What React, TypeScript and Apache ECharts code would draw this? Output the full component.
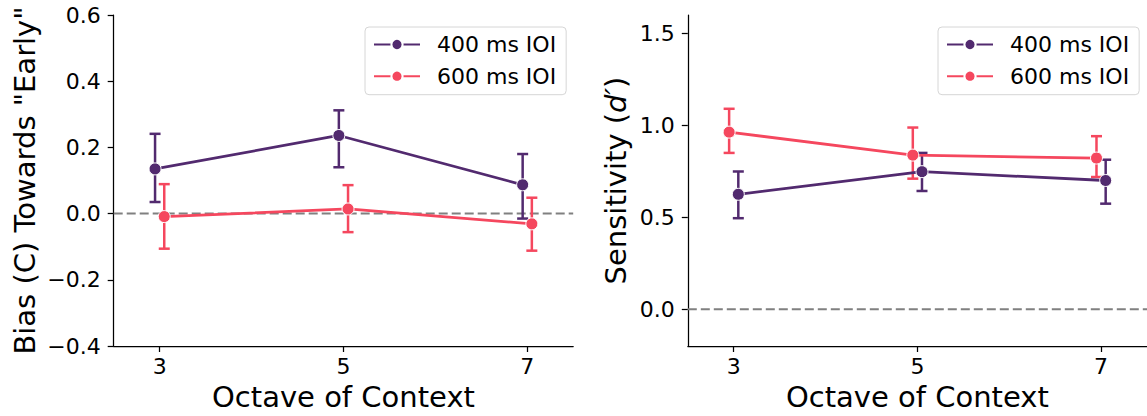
import React, { useEffect, useRef } from "react";
import * as echarts from "echarts";

// ---- data ----
const octaves = [3, 5, 7];
const xTicks = [3, 5, 7];
const seriesNames = ["400 ms IOI", "600 ms IOI"];

// Bias (C)
const bias400Mean = [0.135, 0.236, 0.087];
const bias400Low = [0.035, 0.14, -0.015];
const bias400High = [0.241, 0.312, 0.18];
const bias600Mean = [-0.009, 0.014, -0.031];
const bias600Low = [-0.106, -0.056, -0.112];
const bias600High = [0.089, 0.086, 0.048];

// Sensitivity (d')
const sens400Mean = [0.625, 0.748, 0.7];
const sens400Low = [0.495, 0.643, 0.574];
const sens400High = [0.749, 0.85, 0.813];
const sens600Mean = [0.963, 0.838, 0.822];
const sens600Low = [0.85, 0.71, 0.719];
const sens600High = [1.09, 0.988, 0.941];

// horizontal dodge of each group (in x units)
const biasDodge400 = -0.05;
const biasDodge600 = 0.05;
const sensDodge400 = 0.05;
const sensDodge600 = -0.05;

const biasYTicks = [-0.4, -0.2, 0, 0.2, 0.4, 0.6];
const sensYTicks = [0, 0.5, 1.0, 1.5];

const X_MIN = 2.5;
const X_MAX = 7.5;

const C400 = "#522a6f";
const C600 = "#f5475e";
const FONT = "DejaVu Sans";

function fmt(v: number) {
  return (v < 0 ? "\u2212" : "") + Math.abs(v).toFixed(1);
}

function pts(mean: number[], dodge: number) {
  return octaves.map((o, i) => [o + dodge, mean[i]]);
}
function errs(low: number[], high: number[], dodge: number) {
  return octaves.map((o, i) => [o + dodge, low[i], high[i]]);
}

const errRender = (color: string) => (params: any, api: any) => {
  const x = api.value(0);
  const lo = api.coord([x, api.value(1)]);
  const hi = api.coord([x, api.value(2)]);
  const cap = 5.5;
  const style = { stroke: color, lineWidth: 2.5 };
  return {
    type: "group",
    children: [
      { type: "line", shape: { x1: lo[0], y1: lo[1], x2: hi[0], y2: hi[1] }, style },
      { type: "line", shape: { x1: hi[0] - cap, y1: hi[1], x2: hi[0] + cap, y2: hi[1] }, style },
      { type: "line", shape: { x1: lo[0] - cap, y1: lo[1], x2: lo[0] + cap, y2: lo[1] }, style },
    ],
  };
};

function lineSeries(name: string, color: string, data: number[][], idx: number) {
  return {
    type: "line",
    name,
    xAxisIndex: idx,
    yAxisIndex: idx,
    data,
    symbol: "circle",
    symbolSize: 12,
    lineStyle: { color, width: 2.8 },
    itemStyle: { color, borderColor: "#ffffff", borderWidth: 1 },
    z: 4,
  };
}

function errSeries(name: string, color: string, data: number[][], idx: number) {
  return {
    type: "custom",
    name: name + " err",
    xAxisIndex: idx,
    yAxisIndex: idx,
    data,
    encode: { x: 0, y: [1, 2] },
    renderItem: errRender(color),
    itemStyle: { color },
    z: 3,
  };
}

function zeroSeries(idx: number) {
  return {
    type: "line",
    name: "zero",
    xAxisIndex: idx,
    yAxisIndex: idx,
    data: [
      [X_MIN, 0],
      [X_MAX, 0],
    ],
    symbol: "none",
    lineStyle: { color: "#808080", width: 2, type: [9, 4] },
    z: 1,
    silent: true,
  };
}

const axisCommon = {
  axisLine: { show: true, onZero: false, lineStyle: { color: "#000", width: 1.25 } },
  axisTick: { show: true, length: 6, lineStyle: { color: "#000", width: 1.25 } },
  splitLine: { show: false },
};

function xAxis(idx: number) {
  return {
    type: "value",
    gridIndex: idx,
    min: X_MIN,
    max: X_MAX,
    ...axisCommon,
    axisTick: { ...axisCommon.axisTick, customValues: xTicks },
    axisLabel: {
      customValues: xTicks,
      formatter: (v: number) => String(v),
      fontSize: 22,
      fontFamily: FONT,
      color: "#000",
      margin: 9,
    },
    name: "Octave of Context",
    nameLocation: "middle",
    nameGap: 36,
    nameTextStyle: { fontSize: 29, fontFamily: FONT, color: "#000" },
  };
}

const legendCommon = {
  orient: "vertical",
  top: 27,
  data: seriesNames,
  itemWidth: 46,
  itemHeight: 14,
  itemGap: 8.7,
  padding: [6, 10, 7, 8],
  borderColor: "#d6d6d6",
  borderWidth: 1,
  borderRadius: 4,
  backgroundColor: "#ffffff",
  textStyle: {
    fontSize: 22,
    fontFamily: FONT,
    color: "#000",
    lineHeight: 23,
    padding: [0, 0, 0, 12],
  },
  selectedMode: false,
};

export default function App() {
  const ref = useRef<HTMLDivElement>(null);
  useEffect(() => {
    if (!ref.current) return;
    const chart = echarts.init(ref.current, undefined, { renderer: "svg" });
    chart.setOption({
      animation: false,
      backgroundColor: "#ffffff",
      textStyle: { fontFamily: FONT },
      grid: [
        { left: 113.7, top: 15, width: 459.5, height: 332 },
        { left: 687.8, top: 15, width: 459.5, height: 332 },
      ],
      xAxis: [xAxis(0), xAxis(1)],
      yAxis: [
        {
          type: "value",
          gridIndex: 0,
          min: -0.4,
          max: 0.6,
          interval: 0.2,
          ...axisCommon,
          axisLabel: {
            customValues: biasYTicks,
            formatter: fmt,
            fontSize: 22,
            fontFamily: FONT,
            color: "#000",
            margin: 13,
          },
          axisTick: { ...axisCommon.axisTick, customValues: biasYTicks },
          name: 'Bias (C) Towards "Early"',
          nameLocation: "middle",
          nameGap: 74,
          nameTextStyle: { fontSize: 29, fontFamily: FONT, color: "#000" },
        },
        {
          type: "value",
          gridIndex: 1,
          min: -0.2,
          max: 1.6,
          ...axisCommon,
          axisLabel: {
            customValues: sensYTicks,
            formatter: fmt,
            fontSize: 22,
            fontFamily: FONT,
            color: "#000",
            margin: 13,
          },
          axisTick: { ...axisCommon.axisTick, customValues: sensYTicks },
          name: "Sensitivity ({i|d\u2032})",
          nameLocation: "middle",
          nameGap: 57,
          nameTextStyle: {
            fontSize: 29,
            fontFamily: FONT,
            color: "#000",
            rich: { i: { fontSize: 29, fontFamily: FONT, fontStyle: "italic", color: "#000" } },
          },
        },
      ],
      legend: [
        { ...legendCommon, left: 365 },
        { ...legendCommon, left: 938 },
      ],
      series: [
        lineSeries(seriesNames[0], C400, pts(bias400Mean, biasDodge400), 0),
        lineSeries(seriesNames[1], C600, pts(bias600Mean, biasDodge600), 0),
        lineSeries(seriesNames[0], C400, pts(sens400Mean, sensDodge400), 1),
        lineSeries(seriesNames[1], C600, pts(sens600Mean, sensDodge600), 1),
        zeroSeries(0),
        zeroSeries(1),
        errSeries(seriesNames[0], C400, errs(bias400Low, bias400High, biasDodge400), 0),
        errSeries(seriesNames[1], C600, errs(bias600Low, bias600High, biasDodge600), 0),
        errSeries(seriesNames[0], C400, errs(sens400Low, sens400High, sensDodge400), 1),
        errSeries(seriesNames[1], C600, errs(sens600Low, sens600High, sensDodge600), 1),
      ],
    });
    return () => chart.dispose();
  }, []);
  return (
    <div
      ref={ref}
      style={{ position: "fixed", left: 0, top: 0, width: 1147, height: 416, background: "#fff" }}
    />
  );
}
